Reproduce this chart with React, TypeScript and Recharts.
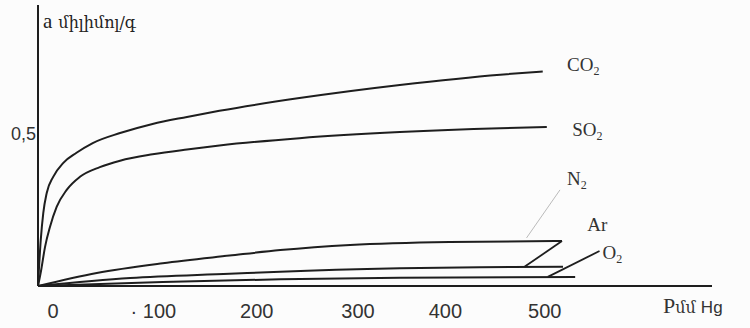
import React from "react";
import {
  LineChart,
  Line,
  XAxis,
  YAxis,
  ReferenceLine,
  ReferenceDot,
} from "recharts";

// pressure (mm Hg) and adsorbed amount a (mmol/g)
const co2Pressure = [0, 2.7, 5.2, 8.6, 15, 25, 38, 54, 81, 113, 147, 179, 258, 357, 456, 498];
const co2Values = [0, 0.151, 0.24, 0.306, 0.359, 0.405, 0.438, 0.47, 0.503, 0.533, 0.556, 0.576, 0.618, 0.661, 0.695, 0.705];

const so2Pressure = [0, 3, 6.9, 11.8, 18.4, 28.3, 41.4, 61, 81, 113, 147, 179, 258, 357, 456, 502];
const so2Values = [0, 0.05, 0.128, 0.194, 0.26, 0.316, 0.359, 0.391, 0.412, 0.433, 0.449, 0.462, 0.486, 0.506, 0.519, 0.523];

const n2Pressure = [0, 58, 123, 189, 239, 308, 406, 517];
const n2Values = [0, 0.043, 0.075, 0.1, 0.118, 0.135, 0.145, 0.148];

const arPressure = [0, 91, 189, 239, 357, 436, 518];
const arValues = [0, 0.026, 0.04, 0.047, 0.058, 0.062, 0.063];

const o2Pressure = [0, 123, 239, 357, 530];
const o2Values = [0, 0.013, 0.022, 0.027, 0.03];

const pressureTicks = [0, 100, 200, 300, 400, 500];
const pressureTickLabels = ["0", "· 100", "200", "300", "400", "500"];

// where each gas name sits (data units) and its leader line, if any
const gasLabels = [
  { base: "CO", sub: "2", p: 522, a: 0.727 },
  { base: "SO", sub: "2", p: 527, a: 0.513 },
  { base: "N", sub: "2", p: 522, a: 0.352 },
  { base: "Ar", sub: "", p: 542, a: 0.201 },
  { base: "O", sub: "2", p: 557, a: 0.109 },
];
const leaders = [
  { from: [515, 0.316], to: [482, 0.158], faint: true },
  { from: [517, 0.148], to: [480, 0.063], faint: false },
  { from: [554, 0.115], to: [503, 0.03], faint: false },
];

const zip = (ps: number[], vs: number[]) => ps.map((p, i) => ({ p, a: vs[i] }));

const series = [
  { name: "CO2", data: zip(co2Pressure, co2Values) },
  { name: "SO2", data: zip(so2Pressure, so2Values) },
  { name: "N2", data: zip(n2Pressure, n2Values) },
  { name: "Ar", data: zip(arPressure, arValues) },
  { name: "O2", data: zip(o2Pressure, o2Values) },
];

const ink = "#1e1e1e";
const tickShift: Record<number, number> = { 0: 15, 100: 14, 200: 16, 300: 16, 400: 2, 500: 0 };

const PressureTick = (props: any) => {
  const { x, y, payload } = props;
  const i = pressureTicks.indexOf(payload.value);
  return (
    <text
      x={x + (tickShift[payload.value] ?? 0)}
      y={y + 32}
      textAnchor="middle"
      fontFamily="Liberation Sans"
      fontSize={20}
      fill="#333"
    >
      {pressureTickLabels[i]}
    </text>
  );
};

export default function App() {
  return (
    <div style={{ position: "fixed", left: 0, top: 0, width: 750, height: 328, background: "#fcfcfc" }}>
      <LineChart width={750} height={328} margin={{ top: 5, right: 38, bottom: 2, left: 0 }}>
        <XAxis
          dataKey="p"
          type="number"
          domain={[0, 665]}
          ticks={pressureTicks}
          allowDataOverflow
          height={40}
          tickSize={0}
          tickMargin={0}
          tickLine={false}
          axisLine={{ stroke: ink, strokeWidth: 2 }}
          tick={<PressureTick />}
          label={{
            content: (props: any) => {
              const vb = props.viewBox;
              return (
                <text x={vb.x + vb.width - 49} y={vb.y + 27} fill="#333">
                  <tspan fontFamily="Liberation Serif" fontSize={22}>P</tspan>
                  <tspan fontFamily="DejaVu Serif" fontSize={16}>մմ</tspan>
                  <tspan fontFamily="Liberation Sans" fontSize={17} dx={5}>Hg</tspan>
                </text>
              );
            },
          }}
        />
        <YAxis
          type="number"
          domain={[0, 0.924]}
          ticks={[0.5]}
          tickFormatter={(v: number) => String(v).replace(".", ",")}
          width={38}
          tickSize={0}
          tickMargin={2}
          tickLine={false}
          axisLine={{ stroke: ink, strokeWidth: 2 }}
          tick={{ fontFamily: "Liberation Sans", fontSize: 18, fill: "#333" }}
          label={{
            content: (props: any) => {
              const vb = props.viewBox;
              return (
                <text x={vb.x + vb.width + 5} y={vb.y + 23} fill="#222">
                  <tspan fontFamily="Liberation Serif" fontSize={21}>a</tspan>
                  <tspan fontFamily="DejaVu Serif" fontSize={16} dx={6}>միլիմոլ/գ</tspan>
                </text>
              );
            },
          }}
        />
        {series.map((s) => (
          <Line
            key={s.name}
            data={s.data}
            dataKey="a"
            type="monotone"
            stroke={ink}
            strokeWidth={2}
            dot={false}
            isAnimationActive={false}
          />
        ))}
        {leaders.map((l, i) => (
          <ReferenceLine
            key={i}
            segment={[
              { x: l.from[0], y: l.from[1] },
              { x: l.to[0], y: l.to[1] },
            ]}
            stroke={l.faint ? "#bbb" : ink}
            strokeWidth={l.faint ? 1 : 1.8}
          />
        ))}
        {gasLabels.map((g) => (
          <ReferenceDot
            key={g.base}
            x={g.p}
            y={g.a}
            r={0}
            fill="none"
            stroke="none"
            label={{
              content: (props: any) => {
                const vb = props.viewBox;
                return (
                  <text
                    x={vb.x}
                    y={vb.y + 6}
                    fontFamily="Liberation Serif"
                    fontSize={19}
                    fill="#333"
                  >
                    {g.base}
                    {g.sub && (
                      <tspan fontSize={12} dy={4}>
                        {g.sub}
                      </tspan>
                    )}
                  </text>
                );
              },
            }}
          />
        ))}
      </LineChart>
    </div>
  );
}
